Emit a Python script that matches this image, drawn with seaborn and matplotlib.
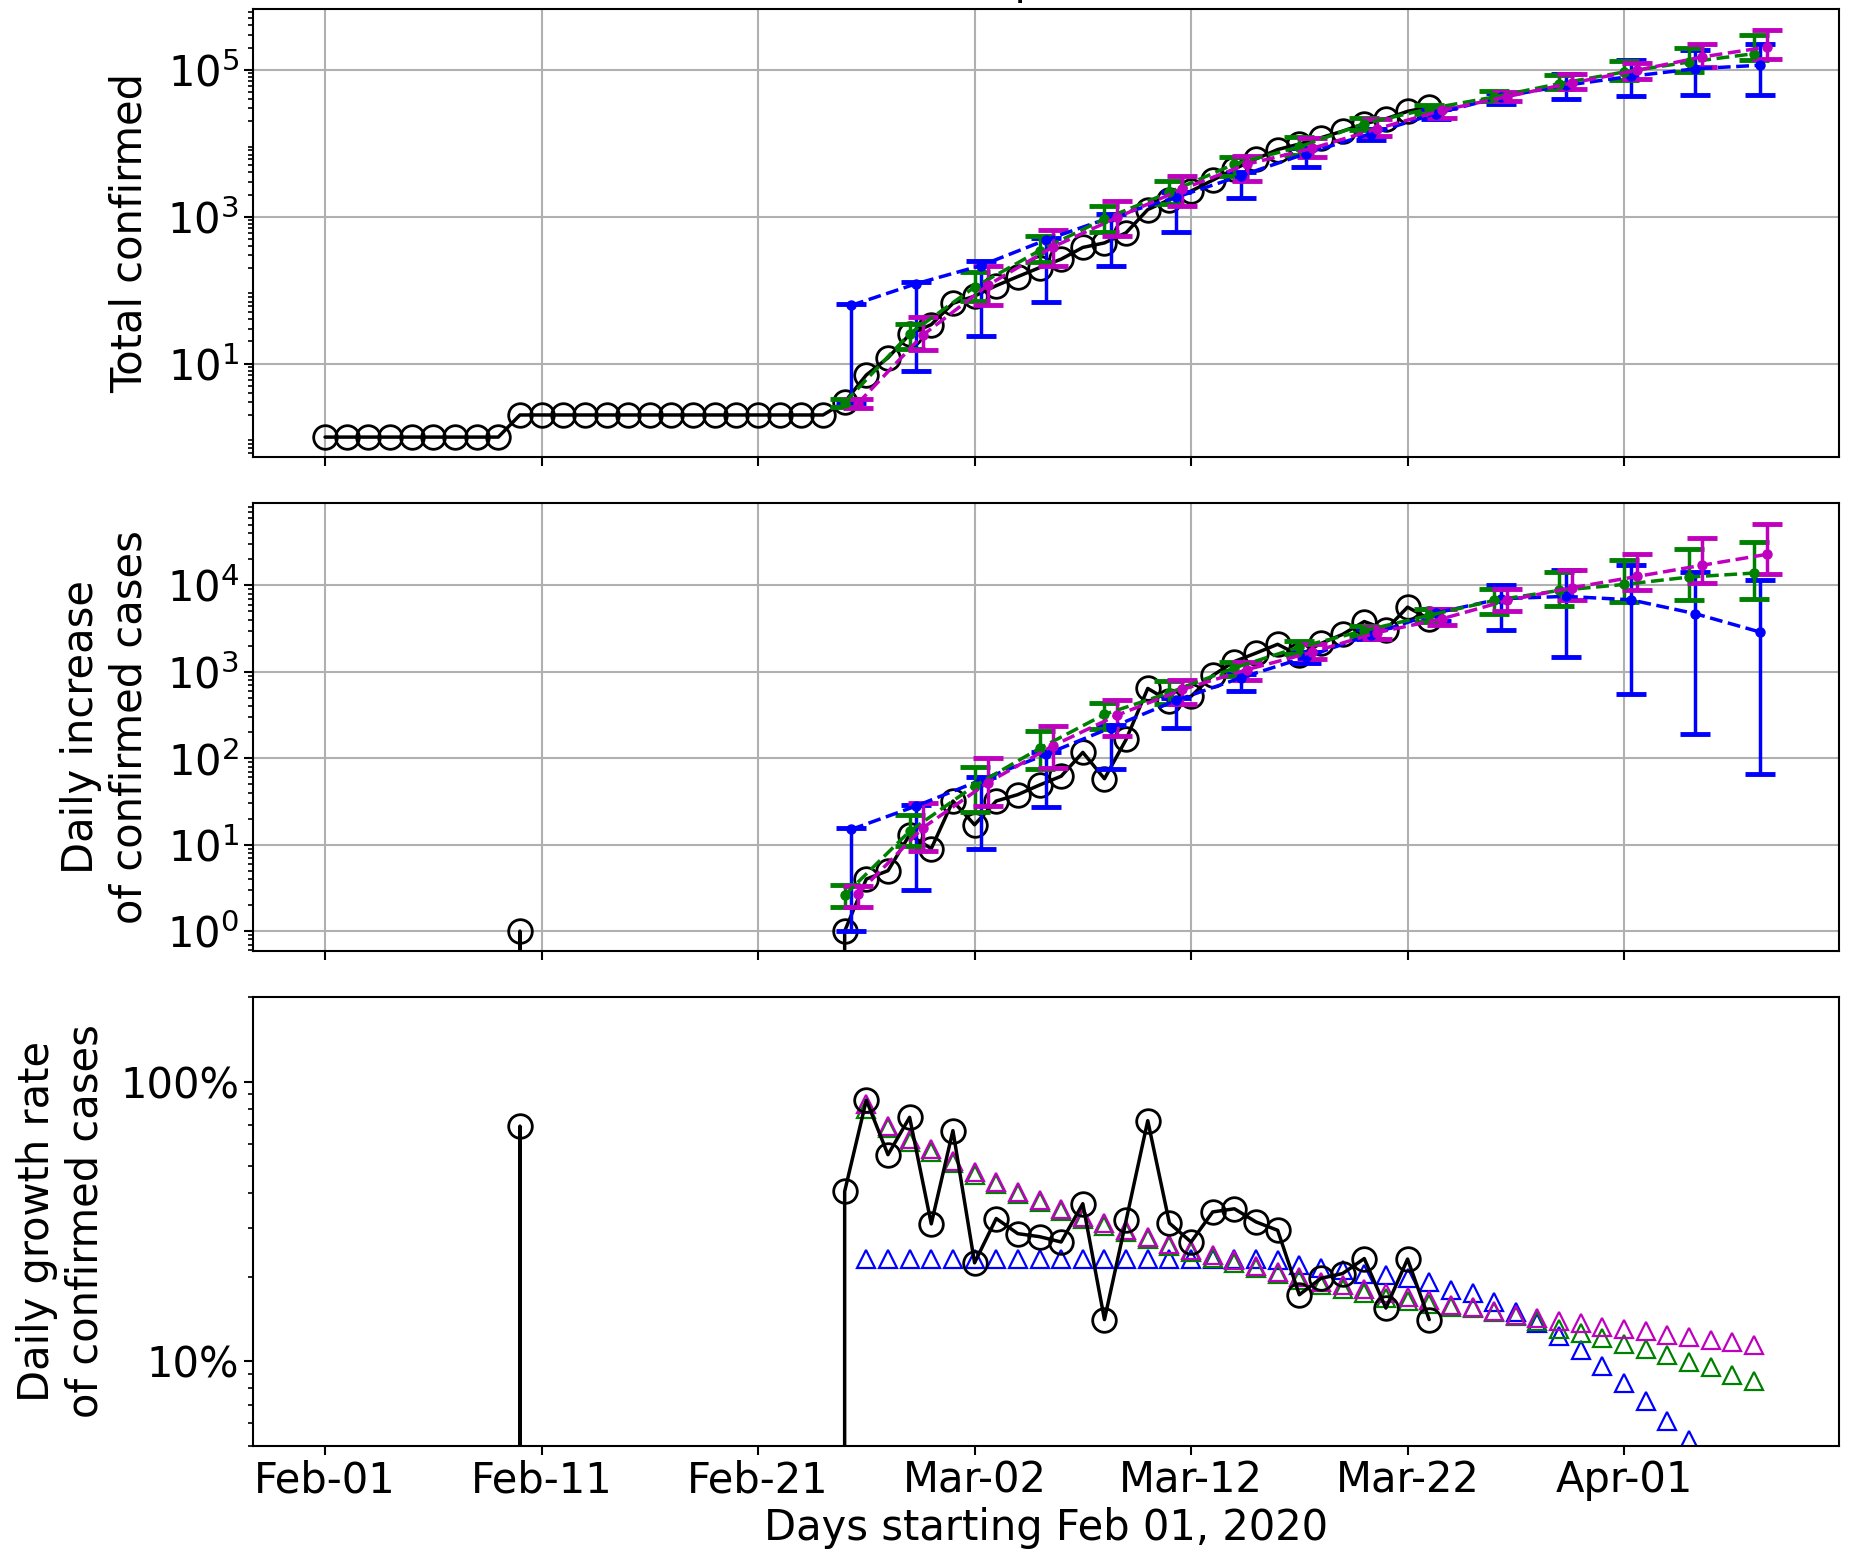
import numpy as np
import matplotlib
matplotlib.use('Agg')
import matplotlib.pyplot as plt
import matplotlib.ticker as mticker
import seaborn as sns

# observed data, one value per day, day 0 = Feb 01 2020
obs_days = list(range(52))
total_confirmed = [1, 1, 1, 1, 1, 1, 1, 1, 1,
                   2, 2, 2, 2, 2, 2, 2, 2, 2, 2, 2, 2, 2, 2, 2,
                   3, 7, 12, 25, 34, 66, 83, 115, 153, 202, 264, 381, 439, 604,
                   1247, 1704, 2225, 3133, 4450, 6098, 8182, 9729, 11860, 14575,
                   18398, 21482, 27090, 31183]
daily_increase = [0, 0, 0, 0, 0, 0, 0, 0, 0,
                  1, 0, 0, 0, 0, 0, 0, 0, 0, 0, 0, 0, 0, 0, 0,
                  1, 4, 5, 13, 9, 32, 17, 32, 38, 49, 62, 117, 58, 165,
                  643, 457, 521, 908, 1317, 1648, 2084, 1547, 2131, 2715,
                  3823, 3084, 5608, 4093]
growth_rate = [0, 0, 0, 0, 0, 0, 0, 0, 0,
               0.693, 0, 0, 0, 0, 0, 0, 0, 0, 0, 0, 0, 0, 0, 0,
               0.405, 0.859, 0.548, 0.745, 0.310, 0.668, 0.225, 0.324, 0.286, 0.279,
               0.267, 0.366, 0.141, 0.319, 0.725, 0.312, 0.267, 0.342, 0.351, 0.315,
               0.294, 0.173, 0.198, 0.206, 0.233, 0.155, 0.232, 0.141]

# model fits, every 3 days from Feb 25 (day 24)
fit_days = [24, 27, 30, 33, 36, 39, 42, 45, 48, 51, 54, 57, 60, 63, 66]

total_blue = [62, 122, 216, 482, 980, 1830, 3600, 7200, 13450, 25200, 42500, 61200, 81100, 103000, 115000]
total_blue_lo = [2.9, 7.9, 24, 69, 216, 612, 1775, 4740, 10900, 21500, 33700, 40300, 43400, 44700, 44700]
total_blue_hi = [65, 128, 250, 510, 1100, 2140, 4000, 8500, 15800, 29500, 48000, 86000, 137000, 183000, 226000]

total_green = [2.95, 25.5, 110, 345, 930, 2140, 5190, 8870, 18400, 29400, 42500, 64500, 93000, 127000, 165000]
total_green_lo = [2.6, 16, 72, 240, 612, 1485, 3600, 7000, 15000, 25000, 37000, 54000, 71600, 93000, 134000]
total_green_hi = [3.3, 35, 175, 552, 1410, 3080, 6380, 12100, 22000, 33000, 51300, 83700, 131000, 197000, 293000]

total_mag = [2.86, 24.3, 116, 384, 980, 2375, 5190, 8500, 15700, 28000, 43000, 66000, 98000, 149000, 203000]
total_mag_lo = [2.5, 15.2, 62, 216, 552, 1410, 3080, 6500, 12500, 22000, 37000, 55000, 75000, 108000, 141000]
total_mag_hi = [3.3, 43, 216, 660, 1650, 3600, 6760, 11800, 21000, 30500, 50000, 86000, 123000, 226000, 350000]

daily_blue = [15, 28, 56, 111, 226, 467, 853, 1480, 2700, 4790, 7010, 7470, 6820, 4700, 2880]
daily_blue_lo = [1, 3.0, 8.9, 27, 75, 222, 598, 1250, 2400, 3900, 3010, 1480, 556, 191, 66]
daily_blue_hi = [15.5, 29, 60, 118, 240, 500, 950, 1700, 3100, 5400, 10240, 14900, 17100, 14300, 11400]

daily_green = [2.6, 14.3, 48, 130, 322, 573, 1110, 1930, 3000, 4500, 6700, 8750, 10260, 12500, 13900]
daily_green_lo = [1.9, 9.7, 24, 75, 216, 420, 900, 1600, 2600, 3800, 4700, 5710, 6410, 6820, 7010]
daily_green_hi = [3.4, 22, 79, 207, 438, 780, 1300, 2300, 3400, 5300, 9070, 14300, 19500, 26600, 31800]

daily_mag = [2.7, 15.6, 52, 139, 316, 625, 1063, 1690, 2850, 4110, 6700, 9400, 12700, 17100, 22900]
daily_mag_lo = [1.9, 8.5, 28, 78, 181, 420, 800, 1400, 2400, 3500, 5000, 6700, 8750, 10600, 13600]
daily_mag_hi = [3.3, 30, 100, 236, 467, 815, 1300, 2100, 3300, 5300, 9000, 14900, 22900, 35600, 51800]

# fitted daily growth rates, one per day
rate_days = list(range(25, 67))
rate_blue = [0.233, 0.233, 0.233, 0.233, 0.233, 0.233, 0.233, 0.233, 0.233, 0.233,
             0.233, 0.233, 0.233, 0.233, 0.233, 0.233, 0.233, 0.233, 0.233,
             0.230, 0.221, 0.216, 0.212, 0.206, 0.203, 0.198, 0.192, 0.180, 0.175,
             0.163, 0.150, 0.137, 0.123, 0.110, 0.0964, 0.0836, 0.0719, 0.0610, 0.0525]
rate_green = [0.80, 0.68, 0.61, 0.56, 0.51, 0.465, 0.43, 0.396, 0.37, 0.345,
              0.322, 0.305, 0.289, 0.274, 0.258, 0.246, 0.235, 0.225, 0.215, 0.205,
              0.196, 0.188, 0.181, 0.175, 0.169, 0.164, 0.160, 0.157, 0.155, 0.150,
              0.145, 0.139, 0.131, 0.126, 0.121, 0.115, 0.111, 0.105, 0.0998, 0.0957,
              0.0895, 0.0848]
rate_mag = [0.832, 0.696, 0.623, 0.574, 0.522, 0.474, 0.437, 0.403, 0.376, 0.351,
            0.328, 0.311, 0.294, 0.279, 0.262, 0.251, 0.240, 0.230, 0.220, 0.209,
            0.200, 0.192, 0.187, 0.182, 0.175, 0.170, 0.166, 0.159, 0.156, 0.151,
            0.147, 0.143, 0.139, 0.137, 0.133, 0.130, 0.128, 0.124, 0.122, 0.119,
            0.117, 0.114]

tick_days = [0, 10, 20, 30, 40, 50, 60]
tick_labels = ['Feb-01', 'Feb-11', 'Feb-21', 'Mar-02', 'Mar-12', 'Mar-22', 'Apr-01']

BLUE, GREEN, MAG = '#0000ff', '#008000', '#bf00bf'

sns.set_style('ticks')
plt.rcParams['font.family'] = ['DejaVu Sans']
plt.rcParams.update({
    'font.size': 30,
    'axes.linewidth': 1.5,
    'axes.edgecolor': 'black',
    'text.color': 'black',
    'axes.labelcolor': 'black',
    'xtick.color': 'black',
    'ytick.color': 'black',
})

fig, axes = plt.subplots(3, 1, figsize=(18.52, 15.57), dpi=100, sharex=True)
fig.subplots_adjust(left=0.1366, right=0.993, bottom=0.0716, top=0.994, hspace=0.1024)
ax1, ax2, ax3 = axes


def observed(ax, y):
    sns.lineplot(x=obs_days, y=y, ax=ax, color='k', lw=2.5, marker='o', markersize=17,
                 markerfacecolor='none', markeredgecolor='k', markeredgewidth=2)


def fit_with_band(ax, shift, c, lo, hi, color):
    x = np.array(fit_days) + shift
    c = np.array(c, dtype=float)
    yerr = [c - np.array(lo), np.array(hi) - c]
    ax.errorbar(x, c, yerr=yerr, fmt='o--', color=color, ms=6.5, lw=2.5,
                elinewidth=2.5, capsize=11, capthick=3.5)


# top: total confirmed
observed(ax1, total_confirmed)
fit_with_band(ax1, 0.3, total_blue, total_blue_lo, total_blue_hi, BLUE)
fit_with_band(ax1, 0.0, total_green, total_green_lo, total_green_hi, GREEN)
fit_with_band(ax1, 0.6, total_mag, total_mag_lo, total_mag_hi, MAG)

# middle: daily increase
observed(ax2, daily_increase)
fit_with_band(ax2, 0.3, daily_blue, daily_blue_lo, daily_blue_hi, BLUE)
fit_with_band(ax2, 0.0, daily_green, daily_green_lo, daily_green_hi, GREEN)
fit_with_band(ax2, 0.6, daily_mag, daily_mag_lo, daily_mag_hi, MAG)

# bottom: growth rate
for days, vals, col in [(rate_days[:len(rate_blue)], rate_blue, BLUE),
                        (rate_days, rate_green, GREEN),
                        (rate_days, rate_mag, MAG)]:
    sns.lineplot(x=days, y=vals, ax=ax3, linestyle='none', marker='^', markersize=13,
                 markerfacecolor='none', markeredgecolor=col, markeredgewidth=1.6)
observed(ax3, growth_rate)

for ax in axes:
    ax.set_yscale('log')
    ax.set_xlim(-3.33, 69.93)
    ax.yaxis.set_minor_locator(mticker.LogLocator(base=10, subs=np.arange(2, 10), numticks=100))
    ax.yaxis.set_minor_formatter(mticker.NullFormatter())
    ax.tick_params(which='major', length=6.5, width=1.5, labelsize=30, color='k', labelcolor='k')
    ax.tick_params(which='minor', length=3.5, width=1.2, color='k')
    ax.set_xlabel('')

ax1.set_ylim(0.528, 6.62e5)
ax1.yaxis.set_major_locator(mticker.FixedLocator([1e1, 1e3, 1e5]))
ax1.yaxis.set_major_formatter(mticker.LogFormatterSciNotation())
ax1.set_ylabel('Total confirmed', labelpad=12)
ax1.set_title('Spain', fontsize=30, pad=10.7)

ax2.set_ylim(0.581, 8.9e4)
ax2.yaxis.set_major_locator(mticker.FixedLocator([1e0, 1e1, 1e2, 1e3, 1e4]))
ax2.yaxis.set_major_formatter(mticker.LogFormatterSciNotation())
ax2.set_ylabel('Daily increase\nof confirmed cases', labelpad=12)

ax3.set_ylim(0.05, 2.0)
ax3.yaxis.set_major_locator(mticker.FixedLocator([0.1, 1.0]))
ax3.yaxis.set_major_formatter(mticker.FuncFormatter(lambda v, p: f'{v * 100:.0f}%'))
ax3.set_ylabel('Daily growth rate\nof confirmed cases', labelpad=10)

for ax in (ax1, ax2):
    ax.grid(True, which='major', color='#b0b0b0', lw=1.5)
ax3.grid(False)

ax3.set_xticks(tick_days)
ax3.set_xticklabels(tick_labels)
ax3.set_xlabel('Days starting Feb 01, 2020')

fig.savefig('out.png', dpi=100)
